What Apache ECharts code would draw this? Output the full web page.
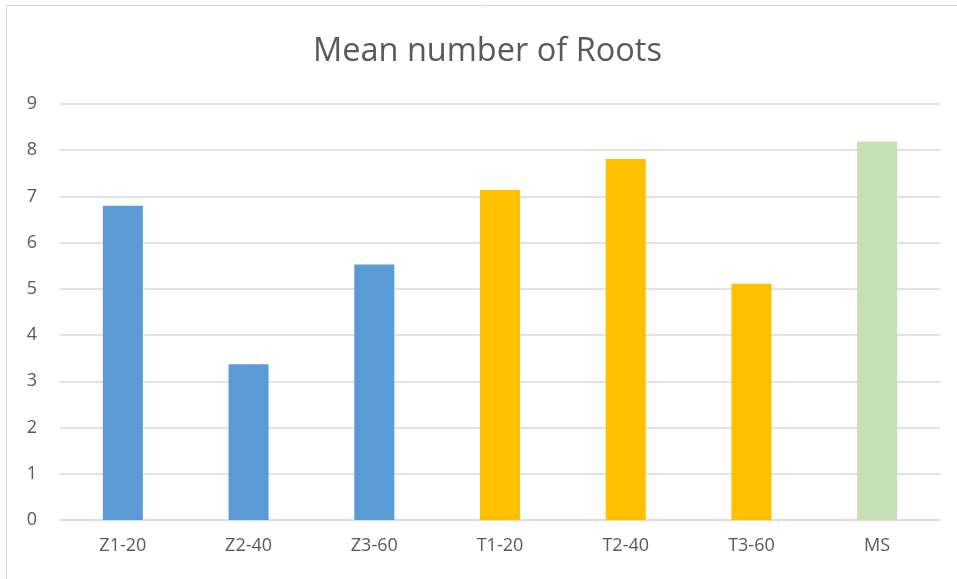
<!DOCTYPE html>
<html>
<head>
<meta charset="utf-8">
<script src="https://cdn.jsdelivr.net/npm/echarts@6/dist/echarts.min.js"></script>
<style>
  html, body { margin: 0; padding: 0; background: #fff; }
  #main { width: 957px; height: 579px; }
</style>
</head>
<body>
<div id="main"></div>
<script>
var categories = ['Z1-20', 'Z2-40', 'Z3-60', 'T1-20', 'T2-40', 'T3-60', 'MS'];
var rootValues = [6.8, 3.37, 5.53, 7.14, 7.81, 5.11, 8.19];
var barColors = ['#5B9BD5', '#5B9BD5', '#5B9BD5', '#FFC000', '#FFC000', '#FFC000', '#C5E0B4'];

var myChart = echarts.init(document.getElementById('main'));

myChart.setOption({
    backgroundColor: '#fff',
    animation: false,
    title: {
        text: 'Mean number of Roots',
        left: 308,
        top: 30,
        textStyle: {
            color: '#595959',
            fontSize: 32.5,
            fontWeight: 'normal',
            fontFamily: 'Open Sans'
        }
    },
    graphic: [{
        type: 'rect',
        shape: { x: 6.5, y: 5.5, width: 1000, height: 1000 },
        style: { fill: 'none', stroke: '#d9d9d9', lineWidth: 1 },
        silent: true
    }],
    grid: {
        left: 60,
        right: 17,
        top: 104,
        bottom: 59
    },
    xAxis: {
        type: 'category',
        data: categories,
        axisLine: { lineStyle: { color: '#d9d9d9', width: 1.5 } },
        axisTick: { show: false },
        axisLabel: {
            color: '#595959',
            fontSize: 18,
            fontFamily: 'Open Sans',
            margin: 17
        }
    },
    yAxis: {
        type: 'value',
        min: 0,
        max: 9,
        interval: 1,
        axisLine: { show: false },
        axisTick: { show: false },
        splitLine: { lineStyle: { color: '#d9d9d9', width: 1.5 } },
        axisLabel: {
            color: '#595959',
            fontSize: 18,
            fontFamily: 'Open Sans',
            margin: 23
        }
    },
    series: [{
        type: 'bar',
        barWidth: 40,
        data: rootValues.map(function (v, i) {
            return { value: v, itemStyle: { color: barColors[i] } };
        })
    }]
});
</script>
</body>
</html>
